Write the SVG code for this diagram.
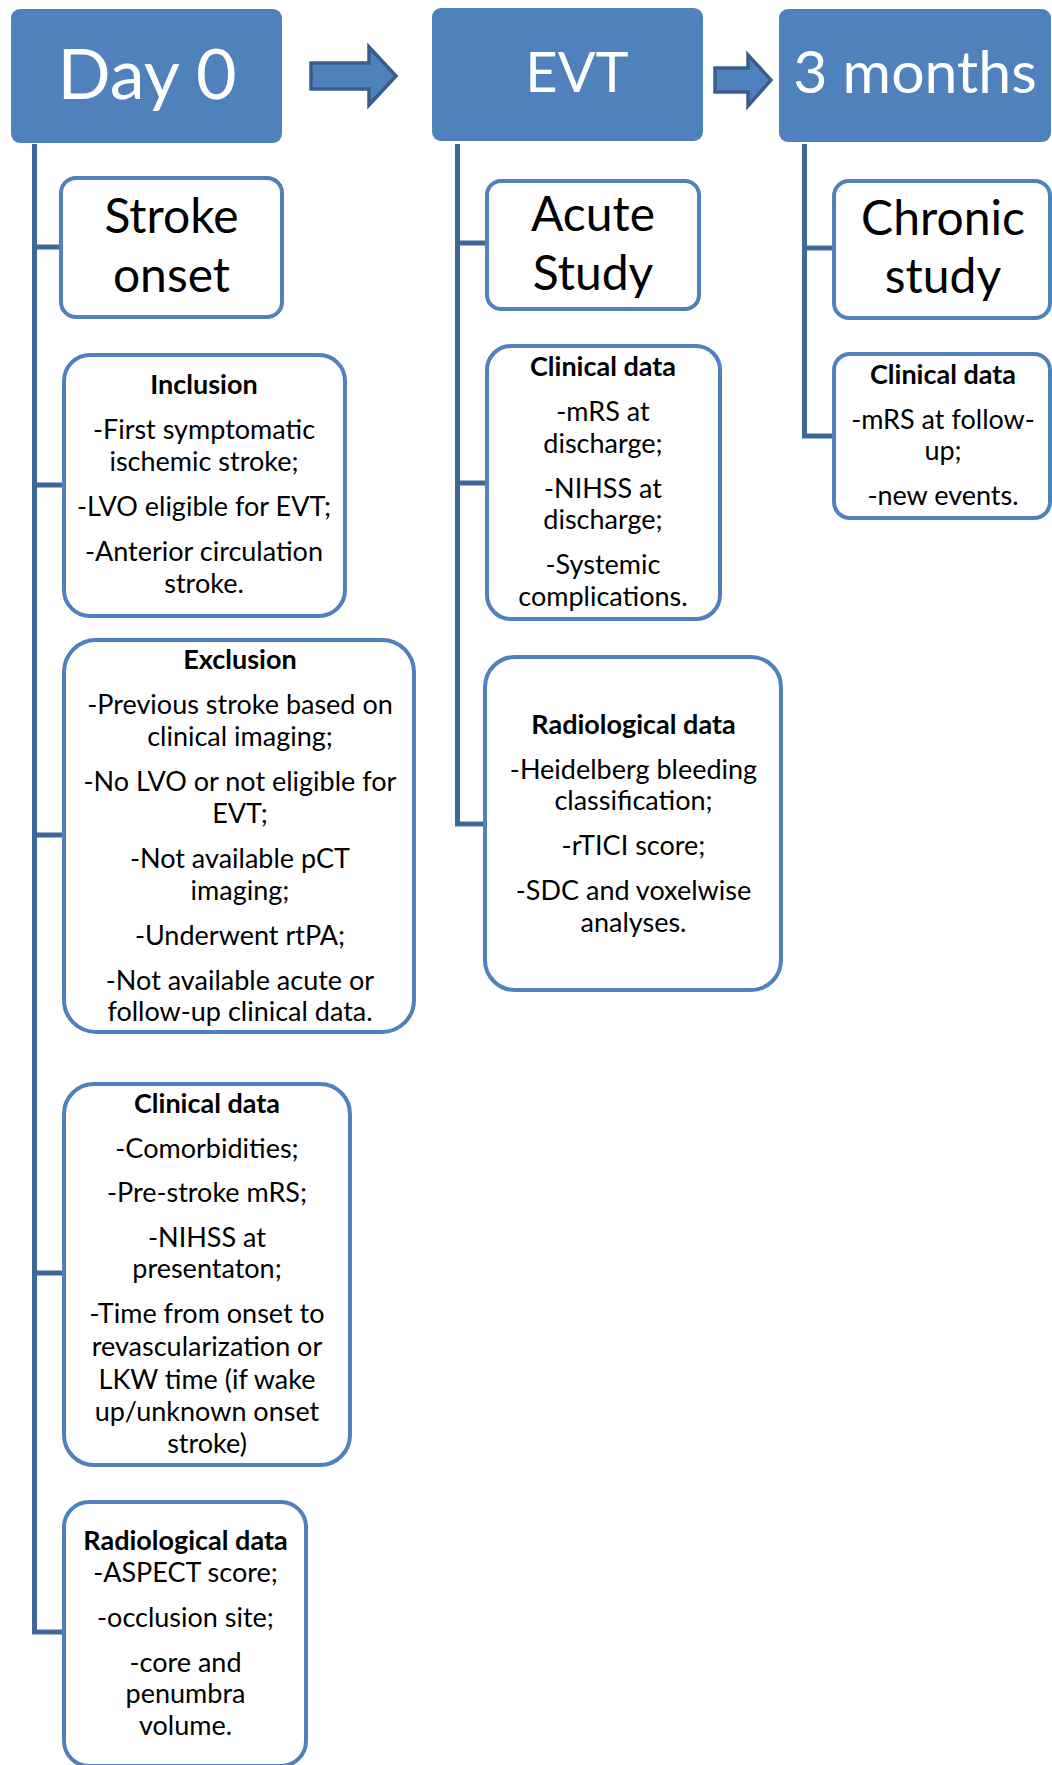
<svg xmlns="http://www.w3.org/2000/svg" width="1052" height="1765" viewBox="0 0 1052 1765">
<style>
  .hdr rect { fill: #4F81BD; }
  .hdr text { fill: #FFFFFF; font-family: Lato, "Liberation Sans", sans-serif; text-anchor: middle; }
  .box rect { fill: #FFFFFF; stroke: #4F81BD; stroke-width: 4; }
  .box text { fill: #000000; font-family: Lato, "Liberation Sans", sans-serif; text-anchor: middle; font-size: 27px; }
  .box text.big { font-size: 48px; }
  .box text.b { font-weight: bold; }
  .conn { fill: none; stroke: #3E6899; stroke-width: 5; stroke-linejoin: miter; stroke-linecap: butt; }
  .arrow { fill: #4F81BD; stroke: #385D8A; stroke-width: 3.5; stroke-linejoin: miter; }
</style>

<g id="connectors">
  <polyline class="conn" points="34.5,144 34.5,1632 62,1632"/>
  <line class="conn" x1="34.5" y1="247" x2="62" y2="247"/>
  <line class="conn" x1="34.5" y1="485" x2="62" y2="485"/>
  <line class="conn" x1="34.5" y1="835" x2="62" y2="835"/>
  <line class="conn" x1="34.5" y1="1273" x2="62" y2="1273"/>
  <polyline class="conn" points="457.5,144 457.5,824 485,824"/>
  <line class="conn" x1="457.5" y1="243" x2="485" y2="243"/>
  <line class="conn" x1="457.5" y1="483" x2="485" y2="483"/>
  <polyline class="conn" points="804.5,144 804.5,436 832,436"/>
  <line class="conn" x1="804.5" y1="248" x2="832" y2="248"/>
  <polygon class="arrow" points="311,63 369,63 369,47 396,76 369,105 369,89 311,89"/>
  <polygon class="arrow" points="715,68 748,68 748,55 771,80 748,106 748,92 715,92"/>
</g>

<g id="day0" class="hdr">
  <rect x="11" y="9" width="271" height="134" rx="9"/>
  <text x="147" y="99" font-size="70">Day 0</text>
</g>
<g id="evt" class="hdr">
  <rect x="432" y="8" width="271" height="133" rx="9"/>
  <text x="577" y="92" font-size="56">EVT</text>
</g>
<g id="months3" class="hdr">
  <rect x="779" y="9" width="272" height="133" rx="9"/>
  <text x="915" y="93" font-size="59">3 months</text>
</g>

<g id="stroke-onset" class="box">
  <rect x="61" y="178" width="221" height="139" rx="15"/>
  <text class="big" x="171.5" y="233">Stroke</text>
  <text class="big" x="171.5" y="292">onset</text>
</g>

<g id="inclusion" class="box">
  <rect x="64" y="355" width="281" height="261" rx="26"/>
  <text class="b" x="204" y="394">Inclusion</text>
  <text x="204" y="439">-First symptomatic</text>
  <text x="204" y="470.5">ischemic stroke;</text>
  <text x="204" y="515.5">-LVO eligible for EVT;</text>
  <text x="204" y="560.5">-Anterior circulation</text>
  <text x="204" y="592.5">stroke.</text>
</g>

<g id="exclusion" class="box">
  <rect x="64" y="640" width="350" height="392" rx="32"/>
  <text class="b" x="240" y="669">Exclusion</text>
  <text x="240" y="714">-Previous stroke based on</text>
  <text x="240" y="746">clinical imaging;</text>
  <text x="240" y="791">-No LVO or not eligible for</text>
  <text x="240" y="823">EVT;</text>
  <text x="240" y="868">-Not available pCT</text>
  <text x="240" y="900">imaging;</text>
  <text x="240" y="945">-Underwent rtPA;</text>
  <text x="240" y="990">-Not available acute or</text>
  <text x="240" y="1021">follow-up clinical data.</text>
</g>

<g id="clinical-day0" class="box">
  <rect x="64" y="1084" width="286" height="381" rx="30"/>
  <text class="b" x="207" y="1113">Clinical data</text>
  <text x="207" y="1158">-Comorbidities;</text>
  <text x="207" y="1202">-Pre-stroke mRS;</text>
  <text x="207" y="1247">-NIHSS at</text>
  <text x="207" y="1278">presentaton;</text>
  <text x="207" y="1323">-Time from onset to</text>
  <text x="207" y="1356">revascularization or</text>
  <text x="207" y="1389">LKW time (if wake</text>
  <text x="207" y="1421">up/unknown onset</text>
  <text x="207" y="1453">stroke)</text>
</g>

<g id="radiological-day0" class="box">
  <rect x="64" y="1502" width="242" height="264" rx="25"/>
  <text class="b" x="185.5" y="1550">Radiological data</text>
  <text x="185.5" y="1582">-ASPECT score;</text>
  <text x="185.5" y="1627">-occlusion site;</text>
  <text x="185.5" y="1672">-core and</text>
  <text x="185.5" y="1703">penumbra</text>
  <text x="185.5" y="1735">volume.</text>
</g>

<g id="acute-study" class="box">
  <rect x="487" y="181" width="212" height="128" rx="14"/>
  <text class="big" x="593" y="231">Acute</text>
  <text class="big" x="593" y="290">Study</text>
</g>

<g id="clinical-evt" class="box">
  <rect x="487" y="346" width="233" height="273" rx="24"/>
  <text class="b" x="603" y="376">Clinical data</text>
  <text x="603" y="421">-mRS at</text>
  <text x="603" y="452.5">discharge;</text>
  <text x="603" y="497.5">-NIHSS at</text>
  <text x="603" y="529">discharge;</text>
  <text x="603" y="574">-Systemic</text>
  <text x="603" y="605.5">complications.</text>
</g>

<g id="radiological-evt" class="box">
  <rect x="485" y="657" width="296" height="333" rx="30"/>
  <text class="b" x="633.5" y="734">Radiological data</text>
  <text x="633.5" y="779">-Heidelberg bleeding</text>
  <text x="633.5" y="810">classification;</text>
  <text x="633.5" y="855">-rTICI score;</text>
  <text x="633.5" y="900">-SDC and voxelwise</text>
  <text x="633.5" y="932">analyses.</text>
</g>

<g id="chronic-study" class="box">
  <rect x="834" y="181" width="216" height="137" rx="15"/>
  <text class="big" x="943" y="235">Chronic</text>
  <text class="big" x="943" y="293">study</text>
</g>

<g id="clinical-3months" class="box">
  <rect x="834" y="354" width="216" height="164" rx="16"/>
  <text class="b" x="943" y="384">Clinical data</text>
  <text x="943" y="429">-mRS at follow-</text>
  <text x="943" y="460">up;</text>
  <text x="943" y="505">-new events.</text>
</g>
</svg>
